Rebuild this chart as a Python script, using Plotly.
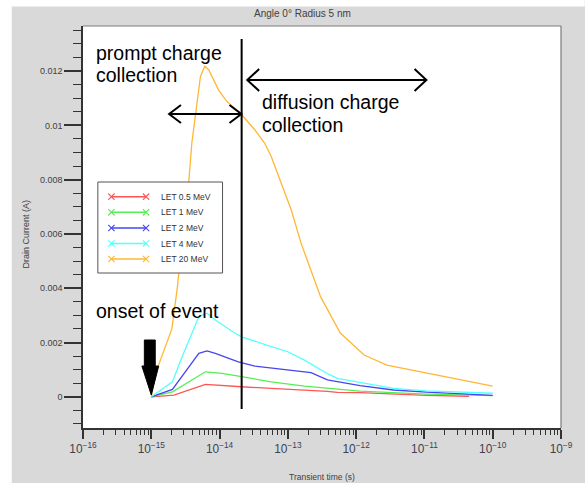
import plotly.graph_objects as go

# ---------------- data ----------------
series_names = ["LET 0.5 MeV", "LET 1 MeV", "LET 2 MeV", "LET 4 MeV", "LET 20 MeV"]
series_colors = ["#ff5555", "#55ee55", "#4646f0", "#55ffff", "#ffb733"]

red_t = [1e-15, 2.15e-15, 6.2e-15, 1.08e-14, 2.1e-14, 5.73e-14, 1.75e-13, 3.8e-13, 5.31e-13, 1.14e-12, 1.07e-11, 4.49e-11]
red_i = [0, 0.00006, 0.00046, 0.00043, 0.00037, 0.00031, 0.00025, 0.0002, 0.00016, 0.00015, 0.00005, 0.00002]

green_t = [1e-15, 2.04e-15, 6.2e-15, 1.08e-14, 2.1e-14, 5.73e-14, 1.75e-13, 3.8e-13, 5.31e-13, 1.14e-12, 1.07e-11, 1.0e-10]
green_i = [0, 0.00018, 0.00092, 0.00086, 0.00074, 0.00055, 0.00039, 0.00031, 0.00027, 0.00021, 0.00010, 0.00004]

blue_t = [1e-15, 2.04e-15, 4.97e-15, 6.55e-15, 8.67e-15, 1.88e-14, 3.29e-14, 1.0e-13, 2.18e-13, 3.8e-13, 5.31e-13, 1.14e-12, 3.52e-12, 1.07e-11, 1.0e-10]
blue_i = [0, 0.00027, 0.0016, 0.00169, 0.0016, 0.00129, 0.00113, 0.00099, 0.00089, 0.00062, 0.00055, 0.00041, 0.00025, 0.00017, 0.00005]

cyan_t = [1e-15, 2.04e-15, 2.84e-15, 4.97e-15, 6.55e-15, 8.67e-15, 1.69e-14, 2.1e-14, 5.73e-14, 1.0e-13, 1.75e-13, 3.02e-13, 3.8e-13, 5.31e-13, 1.14e-12, 3.52e-12, 1.07e-11, 1.0e-10]
cyan_i = [0, 0.00055, 0.00148, 0.00295, 0.00308, 0.00283, 0.00234, 0.00221, 0.00185, 0.00166, 0.00135, 0.00099, 0.00085, 0.00068, 0.00052, 0.00031, 0.00022, 0.00013]

orange_t = [1e-15, 1.17e-15, 2.0e-15, 2.4e-15, 2.69e-15, 3.56e-15, 3.93e-15, 5.25e-15, 6.07e-15, 6.93e-15, 9.68e-15, 1.26e-14, 2.1e-14, 3.29e-14, 4.59e-14, 5.73e-14, 8.0e-14, 1.12e-13, 1.56e-13, 3.02e-13, 5.86e-13, 1.31e-12, 2.81e-12, 1.07e-11, 1.0e-10]
orange_i = [0.0, 0.0009, 0.0025, 0.0040, 0.0052, 0.0080, 0.00936, 0.0118, 0.01218, 0.01205, 0.0113, 0.0109, 0.0104, 0.00983, 0.00934, 0.00884, 0.00787, 0.00689, 0.00566, 0.00368, 0.00235, 0.00154, 0.00117, 0.00087, 0.00039]

y_tick_vals = [0, 0.002, 0.004, 0.006, 0.008, 0.01, 0.012]
y_tick_text = ["0", "0.002", "0.004", "0.006", "0.008", "0.01", "0.012"]

title_text = "Angle 0° Radius 5 nm"
x_title = "Transient time (s)"
y_title = "Drain Current (A)"
note_prompt = ["prompt charge", "collection"]
note_diffusion = ["diffusion charge", "collection"]
note_onset = "onset of event"

# ---------------- layout geometry ----------------
W, H = 585, 483
L, R, T, B = 83, 566, 26, 428
PW, PH = R - L, B - T


def px(x):
    return (x - L) / PW


def py(y):
    return (B - y) / PH


FONT = "Liberation Sans, Arial, sans-serif"

fig = go.Figure()
all_t = [red_t, green_t, blue_t, cyan_t, orange_t]
all_i = [red_i, green_i, blue_i, cyan_i, orange_i]
for name, col, t, i in zip(series_names, series_colors, all_t, all_i):
    fig.add_trace(go.Scatter(x=t, y=i, mode="lines", name=name,
                             line=dict(color=col, width=1.3), showlegend=False))

shapes = []
annotations = []

# white strips at top / left of the picture
shapes.append(dict(type="rect", xref="paper", yref="paper", layer="below",
                   x0=px(-5), x1=px(590), y0=py(6.5), y1=py(-5),
                   fillcolor="white", line=dict(width=0)))
shapes.append(dict(type="rect", xref="paper", yref="paper", layer="below",
                   x0=px(-5), x1=px(11), y0=py(490), y1=py(-5),
                   fillcolor="white", line=dict(width=0)))

# gray frame (top and right)
shapes.append(dict(type="line", xref="paper", yref="paper", x0=px(L), x1=px(R), y0=py(T), y1=py(T),
                   line=dict(color="#7a7a7a", width=1.2)))
shapes.append(dict(type="line", xref="paper", yref="paper", x0=px(R), x1=px(R), y0=py(T), y1=py(B),
                   line=dict(color="#7a7a7a", width=1.2)))

# legend box
shapes.append(dict(type="rect", xref="paper", yref="paper",
                   x0=px(98), x1=px(224), y0=py(273), y1=py(182),
                   fillcolor="white", line=dict(color="#555555", width=1)))
leg_y = [196.7, 212.3, 228.0, 243.5, 259.0]
for name, col, yy in zip(series_names, series_colors, leg_y):
    shapes.append(dict(type="line", xref="paper", yref="paper",
                       x0=px(111.7), x1=px(146.7), y0=py(yy), y1=py(yy),
                       line=dict(color=col, width=1.5)))
    for cx in (111.7, 146.7):
        d = 3.2
        shapes.append(dict(type="path", xref="paper", yref="paper",
                           path=f"M {px(cx-d)},{py(yy-d)} L {px(cx+d)},{py(yy+d)} M {px(cx-d)},{py(yy+d)} L {px(cx+d)},{py(yy-d)}",
                           line=dict(color=col, width=1.1)))
    annotations.append(dict(xref="paper", yref="paper", x=px(160), y=py(yy), text=name,
                            showarrow=False, xanchor="left", yanchor="middle",
                            font=dict(family=FONT, size=8.5, color="#333333")))

# vertical divider line
shapes.append(dict(type="line", xref="paper", yref="paper", x0=px(243.3), x1=px(243.3),
                   y0=py(409), y1=py(39), line=dict(color="black", width=2)))


def double_arrow(x0, x1, y, hl=12, hh=10):
    shapes.append(dict(type="line", xref="paper", yref="paper", x0=px(x0), x1=px(x1),
                       y0=py(y), y1=py(y), line=dict(color="black", width=2)))
    shapes.append(dict(type="path", xref="paper", yref="paper",
                       path=f"M {px(x0+hl)},{py(y-hh)} L {px(x0)},{py(y)} L {px(x0+hl)},{py(y+hh)}",
                       line=dict(color="black", width=2)))
    shapes.append(dict(type="path", xref="paper", yref="paper",
                       path=f"M {px(x1-hl)},{py(y-hh)} L {px(x1)},{py(y)} L {px(x1-hl)},{py(y+hh)}",
                       line=dict(color="black", width=2)))


double_arrow(170, 243, 114, 12, 9)
double_arrow(249, 430, 80, 12, 11)

# big down arrow (onset of event)
pts = [(145, 340), (156, 340), (156, 366), (159.5, 366), (152, 395), (142.5, 366), (145, 366)]
path = "M " + " L ".join(f"{px(a)},{py(b)}" for a, b in pts) + " Z"
shapes.append(dict(type="path", xref="paper", yref="paper", path=path,
                   fillcolor="black", line=dict(color="black", width=1)))

# big annotation texts
BIG = dict(family=FONT, size=19.5, color="black")
annotations.append(dict(xref="paper", yref="paper", x=px(94), y=py(53), text=note_prompt[0],
                        showarrow=False, xanchor="left", yanchor="middle", font=BIG))
annotations.append(dict(xref="paper", yref="paper", x=px(94), y=py(75.5), text=note_prompt[1],
                        showarrow=False, xanchor="left", yanchor="middle", font=BIG))
annotations.append(dict(xref="paper", yref="paper", x=px(261.5), y=py(102), text=note_diffusion[0],
                        showarrow=False, xanchor="left", yanchor="middle", font=BIG))
annotations.append(dict(xref="paper", yref="paper", x=px(261.5), y=py(125.5), text=note_diffusion[1],
                        showarrow=False, xanchor="left", yanchor="middle", font=BIG))
annotations.append(dict(xref="paper", yref="paper", x=px(94), y=py(310.5), text=note_onset,
                        showarrow=False, xanchor="left", yanchor="middle", font=BIG))

# titles
annotations.append(dict(xref="paper", yref="paper", x=px(305), y=py(14), text=title_text,
                        showarrow=False, xanchor="center", yanchor="middle",
                        font=dict(family=FONT, size=10, color="#404040")))
annotations.append(dict(xref="paper", yref="paper", x=px(325), y=py(477), text=x_title,
                        showarrow=False, xanchor="center", yanchor="middle",
                        font=dict(family=FONT, size=8.5, color="#404040")))
annotations.append(dict(xref="paper", yref="paper", x=px(25), y=py(234), text=y_title,
                        showarrow=False, xanchor="center", yanchor="middle", textangle=-90,
                        font=dict(family=FONT, size=9, color="#404040")))

fig.update_layout(
    width=W, height=H,
    margin=dict(l=L, r=W - R, t=T, b=H - B, pad=0),
    paper_bgcolor="#d9d9d9",
    plot_bgcolor="white",
    showlegend=False,
    shapes=shapes,
    annotations=annotations,
    font=dict(family=FONT, size=9, color="#404040"),
)

fig.update_xaxes(
    type="log", range=[-16, -9], dtick=1, exponentformat="power",
    showgrid=False, zeroline=False,
    showline=True, linecolor="#333333", linewidth=1.5,
    ticks="outside", ticklen=9, tickwidth=1.5, tickcolor="#333333",
    tickfont=dict(family=FONT, size=9.5, color="#404050"),
    minor=dict(ticks="outside", ticklen=5, tickwidth=1, tickcolor="#333333", showgrid=False),
)
fig.update_yaxes(
    range=[-0.00115, 0.01366],
    tickmode="array", tickvals=y_tick_vals, ticktext=y_tick_text,
    showgrid=False, zeroline=False,
    showline=True, linecolor="#333333", linewidth=1.5,
    ticks="outside", ticklen=17, tickwidth=1.5, tickcolor="#333333",
    tickfont=dict(family=FONT, size=9, color="#404040"),
    minor=dict(ticks="outside", ticklen=8, tickwidth=1, tickcolor="#333333",
               tick0=0, dtick=0.0005, showgrid=False),
)

fig.write_html("out.html")
